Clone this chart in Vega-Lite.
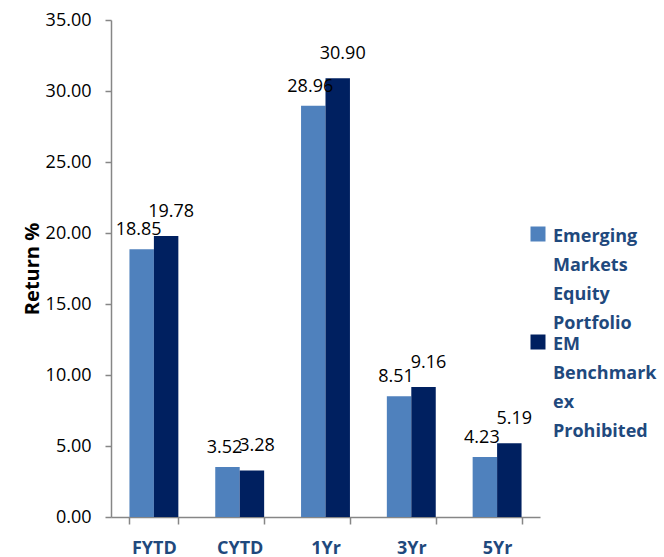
{
  "$schema": "https://vega.github.io/schema/vega-lite/v6.json",
  "width": 429,
  "height": 497,
  "autosize": "none",
  "padding": {"left": 111, "top": 20, "right": 124, "bottom": 40},
  "background": "white",
  "view": {"stroke": null},
  "data": {
    "values": [
      {"period": "FYTD", "series": "Emerging Markets Equity Portfolio", "value": 18.85},
      {"period": "FYTD", "series": "EM Benchmark ex Prohibited", "value": 19.78},
      {"period": "CYTD", "series": "Emerging Markets Equity Portfolio", "value": 3.52},
      {"period": "CYTD", "series": "EM Benchmark ex Prohibited", "value": 3.28},
      {"period": "1Yr", "series": "Emerging Markets Equity Portfolio", "value": 28.96},
      {"period": "1Yr", "series": "EM Benchmark ex Prohibited", "value": 30.90},
      {"period": "3Yr", "series": "Emerging Markets Equity Portfolio", "value": 8.51},
      {"period": "3Yr", "series": "EM Benchmark ex Prohibited", "value": 9.16},
      {"period": "5Yr", "series": "Emerging Markets Equity Portfolio", "value": 4.23},
      {"period": "5Yr", "series": "EM Benchmark ex Prohibited", "value": 5.19}
    ]
  },
  "encoding": {
    "x": {
      "field": "period",
      "type": "nominal",
      "sort": ["FYTD", "CYTD", "1Yr", "3Yr", "5Yr"],
      "scale": {"paddingInner": 0.43, "paddingOuter": 0.215},
      "axis": {
        "title": null,
        "labelAngle": 0,
        "labelFont": "Open Sans",
        "labelFontSize": 18,
        "labelFontWeight": "bold",
        "labelColor": "#1F497D",
        "labelPadding": 15,
        "tickSize": 7,
        "tickBand": "extent",
        "domainColor": "#868686",
        "tickColor": "#868686",
        "domainWidth": 1.5,
        "tickWidth": 1.5
      }
    },
    "xOffset": {
      "field": "series",
      "type": "nominal",
      "sort": ["Emerging Markets Equity Portfolio", "EM Benchmark ex Prohibited"],
      "scale": {"paddingInner": 0, "paddingOuter": 0}
    },
    "y": {
      "field": "value",
      "type": "quantitative",
      "scale": {"domain": [0, 35], "nice": false, "zero": true},
      "axis": {
        "title": "Return %",
        "titleFont": "Open Sans",
        "titleFontSize": 20,
        "titleFontWeight": "bold",
        "titleColor": "#000000",
        "titlePadding": 3,
        "values": [0, 5, 10, 15, 20, 25, 30, 35],
        "format": ".2f",
        "grid": false,
        "labelFont": "Open Sans",
        "labelFontSize": 18,
        "labelColor": "#000000",
        "labelPadding": 14,
        "tickSize": 6,
        "domainColor": "#868686",
        "tickColor": "#868686",
        "domainWidth": 1.5,
        "tickWidth": 1.5
      }
    }
  },
  "layer": [
    {
      "mark": {"type": "bar"},
      "encoding": {
        "color": {
          "field": "series",
          "type": "nominal",
          "sort": ["Emerging Markets Equity Portfolio", "EM Benchmark ex Prohibited"],
          "scale": {
            "domain": ["Emerging Markets Equity Portfolio", "EM Benchmark ex Prohibited"],
            "range": ["#4F81BD", "#002060"]
          },
          "legend": {
            "title": null,
            "orient": "none",
            "legendX": 418,
            "legendY": 205,
            "symbolType": "square",
            "symbolSize": 225,
            "symbolStrokeWidth": 0,
            "labelFont": "Open Sans",
            "labelFontSize": 18,
            "labelFontWeight": "bold",
            "labelColor": "#1F497D",
            "labelExpr": "split(datum.label, ' ')",
            "labelLimit": 200,
            "labelOffset": 6,
            "labelBaseline": "top",
            "rowPadding": -18,
            "encode": {"labels": {"update": {"lineHeight": {"value": 29}, "dy": {"value": -6}}}}
          }
        }
      }
    },
    {
      "transform": [{"filter": "datum.series == 'Emerging Markets Equity Portfolio'"}],
      "mark": {"type": "text", "font": "Open Sans", "fontSize": 18, "color": "#000000", "baseline": "alphabetic", "dy": -14, "dx": -3},
      "encoding": {
        "text": {"field": "value", "type": "quantitative", "format": ".2f"}
      }
    },
    {
      "transform": [{"filter": "datum.series == 'EM Benchmark ex Prohibited'"}],
      "mark": {"type": "text", "font": "Open Sans", "fontSize": 18, "color": "#000000", "baseline": "alphabetic", "dy": -19, "dx": 5},
      "encoding": {
        "text": {"field": "value", "type": "quantitative", "format": ".2f"}
      }
    }
  ]
}
